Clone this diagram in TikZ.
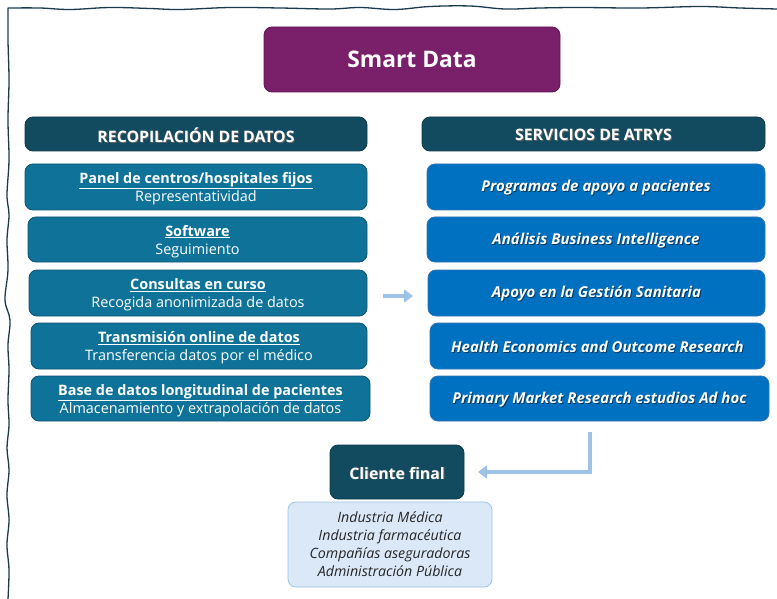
\documentclass[tikz,border=0pt]{standalone}
\usepackage{fontspec}
\setmainfont{Open Sans}
\usetikzlibrary{arrows.meta}
\definecolor{sdpurple}{HTML}{7A1F6A}
\definecolor{sdpurpleb}{HTML}{5E1650}
\definecolor{darkteal}{HTML}{124A5F}
\definecolor{darktealb}{HTML}{0E3A4C}
\definecolor{leftblue}{HTML}{0F7399}
\definecolor{leftblueb}{HTML}{0B5473}
\definecolor{rightblue}{HTML}{0070C0}
\definecolor{rightblueb}{HTML}{2E75B6}
\definecolor{lightarrow}{HTML}{9DC3E6}
\definecolor{lightfill}{HTML}{DAE8F7}
\definecolor{framecol}{HTML}{1B3A4B}
\newcommand\shtext[2]{\raisebox{-1.5pt}[\height][\depth]{\makebox[0pt][l]{\raisebox{-0.9pt}{\hspace{0.9pt}\textcolor{#1}{#2}}}#2}}
\newcommand\twoline[2]{\raisebox{-2pt}[\height][\depth]{\begin{tabular}{@{}c@{}}\textbf{\underline{#1}}\\#2\end{tabular}}}
\begin{document}
\begin{tikzpicture}[x=1pt,y=-1pt,
  base/.style={rounded corners=8pt, line width=0.8pt, text=white, align=center, inner sep=0pt},
  purplebox/.style={base, fill=sdpurple, draw=sdpurpleb, font=\bfseries\fontsize{22.8}{26}\selectfont},
  headbox/.style={base, fill=darkteal, draw=darktealb, font=\bfseries\fontsize{15.8}{18}\selectfont},
  leftbox/.style={base, fill=leftblue, draw=leftblueb, font=\fontsize{14.4}{18}\selectfont},
  rightbox/.style={base, fill=rightblue, draw=rightblueb, font=\bfseries\itshape\fontsize{15}{17}\selectfont},
  clientbox/.style={base, fill=darkteal, draw=darktealb, font=\bfseries\fontsize{15.8}{18}\selectfont},
  listbox/.style={base, fill=lightfill, draw=lightarrow, text=black!85, font=\itshape\fontsize{14.2}{18}\selectfont},
  flowarrow/.style={draw=lightarrow, line width=3.5pt, -{Triangle[length=9pt,width=13pt]}}
]
\useasboundingbox (0,0) rectangle (777,599);
% hand-drawn frame
\draw[framecol, line width=1.3pt, line cap=round]
  plot[smooth, tension=0.6] coordinates {(8,599) (9,570) (7,545) (9,520) (7,495) (9,470) (7,448) (9,425) (8,400) (9,370) (8,345) (10,320) (5,300) (8,270) (7,240) (9,215) (7,195) (9,160) (8,120) (9,80) (8,40) (8,8)}
  plot[smooth, tension=0.6] coordinates {(8,8) (40,8) (70,9.5) (110,7.5) (150,8.5) (180,9.5) (230,7.5) (280,8) (330,9) (360,7.5) (395,9.5) (430,6.5) (470,6) (505,9) (540,8) (580,7.5) (640,8) (700,6.5) (740,8) (777,9)};

\node[purplebox, minimum width=296, minimum height=65] (smart) at (412,59.5) {Smart Data};

\node[headbox, minimum width=342, minimum height=34] (hl) at (196,134) {\shtext{black!60}{RECOPILACIÓN DE DATOS}};
\node[headbox, minimum width=343, minimum height=34] (hr) at (593.5,134) {\shtext{black!60}{SERVICIOS DE ATRYS}};

\node[leftbox, minimum width=342, minimum height=46] (l1) at (196,187) {\twoline{Panel de centros/hospitales fijos}{Representatividad}};
\node[leftbox, minimum width=339, minimum height=45] (l2) at (197.5,239.5) {\twoline{Software}{Seguimiento}};
\node[leftbox, minimum width=338, minimum height=46] (l3) at (198,293) {\twoline{Consultas en curso}{Recogida anonimizada de datos}};
\node[leftbox, minimum width=336, minimum height=46] (l4) at (199,346) {\twoline{Transmisión online de datos}{Transferencia datos por el médico}};
\node[leftbox, minimum width=339, minimum height=45] (l5) at (200.5,398.5) {\twoline{Base de datos longitudinal de pacientes}{Almacenamiento y extrapolación de datos}};

\node[rightbox, minimum width=338, minimum height=46] (r1) at (596,187) {\shtext{rightblue!50!black}{Programas de apoyo a pacientes}};
\node[rightbox, minimum width=338, minimum height=45] (r2) at (596,239.5) {\shtext{rightblue!50!black}{Análisis Business Intelligence}};
\node[rightbox, minimum width=337, minimum height=46] (r3) at (596.5,293) {\shtext{rightblue!50!black}{Apoyo en la Gestión Sanitaria}};
\node[rightbox, minimum width=335, minimum height=46] (r4) at (597.5,346) {\shtext{rightblue!50!black}{Health Economics and Outcome Research}};
\node[rightbox, minimum width=339, minimum height=45] (r5) at (599.5,398.5) {\shtext{rightblue!50!black}{Primary Market Research estudios Ad hoc}};

\node[clientbox, minimum width=134, minimum height=54] (cf) at (397,472) {\shtext{black!60}{Cliente final}};
\node[listbox, minimum width=204, minimum height=85] (list) at (390,544.5) {Industria Médica\\Industria farmacéutica\\Compañías aseguradoras\\Administración Pública};

% arrows
\coordinate (a1) at (383,296);
\coordinate (a2) at (413,296);
\draw[flowarrow] (a1) -- (a2);
\coordinate (e1) at (590,432);
\coordinate (e2) at (478,472);
\draw[flowarrow, rounded corners=0pt] (e1) |- (e2);
\end{tikzpicture}
\end{document}
